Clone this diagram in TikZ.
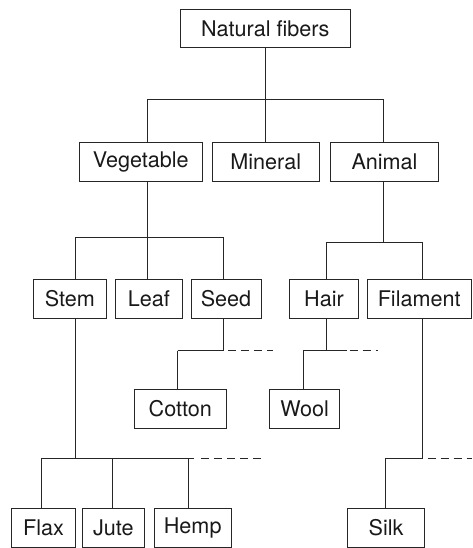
\documentclass[tikz,border=0pt]{standalone}
\usepackage{fontspec}
\setmainfont{TeX Gyre Heros}
\begin{document}
\begin{tikzpicture}[x=1pt,y=-1pt,
  box/.style={draw=black!85, line width=0.9pt, inner sep=0pt, minimum height=38.8pt,
    font=\fontsize{21.6}{25}\selectfont, text=black!90},
  link/.style={draw=black!85, line width=0.9pt},
  dash link/.style={draw=black!85, line width=0.9pt, dash pattern=on 8pt off 5pt}]
\useasboundingbox (0,0) rectangle (472,548);
% nodes
\node[box, minimum width=170.7pt] (root)   at (265.3,28.5)  {Natural fibers};
\node[box, minimum width=123.7pt] (veg)    at (140.8,161.7) {Vegetable};
\node[box, minimum width=107.3pt] (min)    at (265.7,161.7) {Mineral};
\node[box, minimum width=107.6pt] (ani)    at (384.5,161.7) {Animal};
\node[box, minimum width=73.7pt]  (stem)   at (69.8,298.7)  {Stem};
\node[box, minimum width=66.3pt]  (leaf)   at (148.8,298.7) {Leaf};
\node[box, minimum width=70pt]    (seed)   at (226,298.7)   {Seed};
\node[box, minimum width=69.4pt]  (hair)   at (324,298.7)   {Hair};
\node[box, minimum width=104.3pt] (fil)    at (419.2,298.7) {Filament};
\node[box, minimum width=91.3pt]  (cotton) at (180.3,408.8) {Cotton};
\node[box, minimum width=70pt]    (wool)   at (304.7,408.8) {Wool};
\node[box, minimum width=63.6pt]  (flax)   at (43.5,527.8)  {Flax};
\node[box, minimum width=61.3pt]  (jute)   at (113.3,527.8) {Jute};
\node[box, minimum width=77.3pt]  (hemp)   at (192.7,527.8) {Hemp};
\node[box, minimum width=76.6pt]  (silk)   at (386,527.8)   {Silk};
% junction coordinates
\coordinate (j0)  at (265.7,99.3);
\coordinate (j0l) at (147,99.3);
\coordinate (j0r) at (383.3,99.3);
\coordinate (j1)  at (147,237.3);
\coordinate (j1l) at (75.3,237.3);
\coordinate (j1r) at (223.3,237.3);
\coordinate (j2)  at (383.3,242);
\coordinate (j2l) at (326.3,242);
\coordinate (j2r) at (422.7,242);
\coordinate (j3)  at (223.3,350.7);
\coordinate (j3l) at (177.7,350.7);
\coordinate (j3e) at (273.3,350.7);
\coordinate (j4)  at (326.3,350.7);
\coordinate (j4l) at (303.3,350.7);
\coordinate (j4s) at (346.7,350.7);
\coordinate (j4e) at (377.7,350.7);
\coordinate (j5)  at (75.3,458.3);
\coordinate (j5l) at (41.3,458.3);
\coordinate (j5m) at (112,458.3);
\coordinate (j5h) at (188,458.3);
\coordinate (j5s) at (194.3,458.3);
\coordinate (j5e) at (261.7,458.3);
\coordinate (j6)  at (422.7,458.3);
\coordinate (j6l) at (385.7,458.3);
\coordinate (j6e) at (472,458.3);
% level 1
\draw[link] (j0 |- root.south) -- (j0);
\draw[link] (j0l) -- (j0r);
\draw[link] (j0l) -- (j0l |- veg.north);
\draw[link] (j0) -- (j0 |- min.north);
\draw[link] (j0r) -- (j0r |- ani.north);
% vegetable
\draw[link] (j1 |- veg.south) -- (j1);
\draw[link] (j1l) -- (j1r);
\draw[link] (j1l) -- (j1l |- stem.north);
\draw[link] (j1) -- (j1 |- leaf.north);
\draw[link] (j1r) -- (j1r |- seed.north);
% animal
\draw[link] (j2 |- ani.south) -- (j2);
\draw[link] (j2l) -- (j2r);
\draw[link] (j2l) -- (j2l |- hair.north);
\draw[link] (j2r) -- (j2r |- fil.north);
% seed
\draw[link] (j3 |- seed.south) -- (j3);
\draw[link] (j3l) -- (j3);
\draw[dash link] ([xshift=5pt]j3) -- (j3e);
\draw[link] (j3l) -- (j3l |- cotton.north);
% hair
\draw[link] (j4 |- hair.south) -- (j4);
\draw[link] (j4l) -- (j4s);
\draw[dash link] ([xshift=3pt]j4s) -- (j4e);
\draw[link] (j4l) -- (j4l |- wool.north);
% stem
\draw[link] (j5 |- stem.south) -- (j5);
\draw[link] (j5l) -- (j5s);
\draw[dash link] ([xshift=7pt]j5s) -- (j5e);
\draw[link] (j5l) -- (j5l |- flax.north);
\draw[link] (j5m) -- (j5m |- jute.north);
\draw[link] (j5h) -- (j5h |- hemp.north);
% filament
\draw[link] (j6 |- fil.south) -- (j6);
\draw[link] (j6l) -- (j6);
\draw[dash link] ([xshift=5pt]j6) -- (j6e);
\draw[link] (j6l) -- (j6l |- silk.north);
\end{tikzpicture}
\end{document}
